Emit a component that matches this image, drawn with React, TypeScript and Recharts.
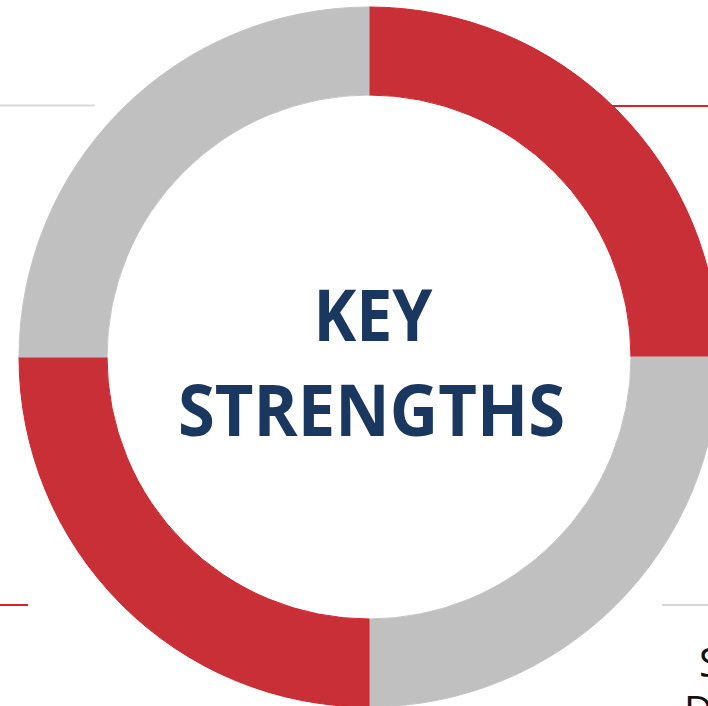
import { PieChart, Pie, Cell } from "recharts"

const slices = ["Strength A", "Strength B", "Strength C", "Strength D"]
const shares = [25, 25, 25, 25]
const sliceColors = ["#C82F37", "#C0C0C0", "#C82F37", "#C0C0C0"]
const titleLines = ["KEY", "STRENGTHS"]
const sideLetters = ["S", "D"]

const data = slices.map((name, i) => ({ name, value: shares[i] }))

export default function App() {
  return (
    <div
      style={{
        position: "absolute",
        left: 0,
        top: 0,
        width: 708,
        height: 706,
        overflow: "hidden",
        background: "#fff",
      }}
    >
      <svg width={708} height={706} style={{ position: "absolute", left: 0, top: 0 }}>
        <line x1={0} y1={105.5} x2={95} y2={105.5} stroke="#D9D9D9" strokeWidth={2} />
        <line x1={598} y1={106} x2={708} y2={106} stroke="#E02028" strokeWidth={2} />
        <line x1={0} y1={605} x2={28} y2={605} stroke="#E02028" strokeWidth={2} />
        <line x1={662} y1={605} x2={708} y2={605} stroke="#D9D9D9" strokeWidth={2} />
      </svg>
      <div style={{ position: "absolute", left: 0, top: 0 }}>
        <PieChart width={708} height={706} margin={{ top: 0, right: 0, bottom: 0, left: 0 }}>
          <Pie
            data={data}
            dataKey="value"
            nameKey="name"
            cx={369}
            cy={357}
            innerRadius={262}
            outerRadius={350}
            startAngle={90}
            endAngle={-270}
            paddingAngle={0}
            stroke="none"
            isAnimationActive={false}
          >
            {data.map((d, i) => (
              <Cell
                key={d.name}
                fill={sliceColors[i]}
                stroke={i % 2 === 0 ? "#D8232B" : "#C4C4C4"}
                strokeWidth={1}
              />
            ))}
          </Pie>
        </PieChart>
      </div>
      <svg width={708} height={706} style={{ position: "absolute", left: 0, top: 0 }}>
        <text
          x={373}
          y={341}
          textAnchor="middle"
          fontFamily="'Open Sans', sans-serif"
          fontWeight={700}
          fontSize={71}
          fill="#1A3760"
          textLength={119}
          lengthAdjust="spacingAndGlyphs"
        >
          {titleLines[0]}
        </text>
        <text
          x={371.5}
          y={436}
          textAnchor="middle"
          fontFamily="'Open Sans', sans-serif"
          fontWeight={700}
          fontSize={71}
          fill="#1A3760"
          textLength={387}
          lengthAdjust="spacingAndGlyphs"
        >
          {titleLines[1]}
        </text>
        <text x={699} y={677} fontFamily="'Open Sans', sans-serif" fontSize={40} fill="#111">
          {sideLetters[0]}
        </text>
        <text x={684} y={725} fontFamily="'Open Sans', sans-serif" fontSize={40} fill="#111">
          {sideLetters[1]}
        </text>
      </svg>
    </div>
  )
}
